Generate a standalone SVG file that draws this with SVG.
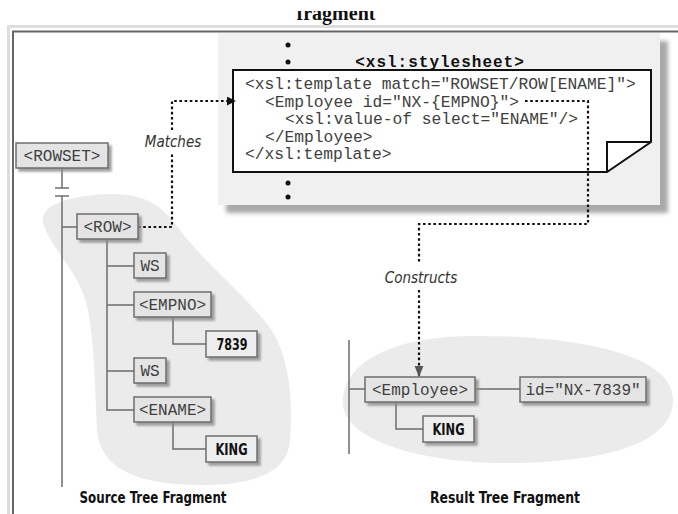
<svg xmlns="http://www.w3.org/2000/svg" width="678" height="514" viewBox="0 0 678 514">
<defs>
<style>
.box{fill:#e4e4e4;stroke:#6e6e6e;stroke-width:1.5}
.val{fill:#eeeeee;stroke:#6e6e6e;stroke-width:1.5}
.mono{font-family:"Liberation Mono","Courier New",monospace;font-size:16px;fill:#404040}
.bold{font-family:"Liberation Sans Narrow","DejaVu Sans Condensed","Liberation Sans",sans-serif;font-weight:bold;font-size:16px;fill:#111}
.lab{font-family:"Liberation Sans Narrow","DejaVu Sans Condensed","Liberation Sans",sans-serif;font-style:italic;font-size:15px;fill:#333}
.cap{font-family:"Liberation Sans Narrow","DejaVu Sans Condensed","Liberation Sans",sans-serif;font-weight:bold;font-size:16px;fill:#111}
.tree{fill:none;stroke:#6e6e6e;stroke-width:1.5}
.dot{fill:none;stroke:#111;stroke-width:2.2;stroke-dasharray:2.6 2.6}
.code{font-family:"Liberation Mono","Courier New",monospace;font-size:16.3px;fill:#404040}
</style>
<filter id="sh" x="-20%" y="-20%" width="150%" height="160%">
<feDropShadow dx="3" dy="3" stdDeviation="1.3" flood-color="#8a8a8a" flood-opacity="0.8"/>
</filter>
<filter id="blur" x="-10%" y="-10%" width="120%" height="120%">
<feGaussianBlur stdDeviation="2"/>
</filter>
<marker id="ah" viewBox="0 0 10 10" refX="9" refY="5" markerWidth="9" markerHeight="9" markerUnits="userSpaceOnUse" orient="auto">
<path d="M0,0 L10,5 L0,10 Z" fill="#111"/>
</marker>
<marker id="ah2" viewBox="0 0 10 10" refX="9" refY="5" markerWidth="11" markerHeight="11" markerUnits="userSpaceOnUse" orient="auto">
<path d="M0,1 L10,5 L0,9 Z" fill="#555"/>
</marker>
<clipPath id="titleclip"><rect x="0" y="11" width="678" height="20"/></clipPath>
</defs>
<rect width="678" height="514" fill="#ffffff"/>

<text x="336" y="20" text-anchor="middle" clip-path="url(#titleclip)" font-family="Liberation Serif,serif" font-weight="bold" font-size="20" fill="#111">fragment</text>

<!-- frames -->
<path d="M8.5,514 V26.5 H678" fill="none" stroke="#dddddd" stroke-width="3"/>
<path d="M13,514 V31.5 H678" fill="none" stroke="#666666" stroke-width="2"/>

<!-- background shapes -->
<path id="source-blob" d="M43,222 C40,205 70,195 110,194 C150,193 165,210 180,230 C200,258 240,290 268,325 C290,355 293,400 290,440 C288,470 260,485 200,485 C140,485 100,470 97,430 C95,390 95,350 88,310 C80,270 50,250 43,222 Z" fill="#ebebeb"/>
<path id="result-blob" d="M343,405 C340,370 380,337 470,336 C560,335 673,350 673,400 C673,445 600,463 505,463 C420,463 346,440 343,405 Z" fill="#ebebeb"/>

<!-- stylesheet page -->
<g id="stylesheet">
<rect x="226" y="41" width="442" height="172" fill="#a8a8a8" filter="url(#blur)"/>
<rect x="218" y="33" width="442" height="172" fill="#f0f0f0"/>
<circle cx="288" cy="45" r="2.5" fill="#111"/>
<circle cx="288" cy="62" r="2.5" fill="#111"/>
<circle cx="288" cy="183" r="2.5" fill="#111"/>
<circle cx="288" cy="197" r="2.5" fill="#111"/>
<text x="440" y="67" text-anchor="middle" font-family="Liberation Mono,'Courier New',monospace" font-weight="bold" font-size="16" letter-spacing="1" fill="#111">&lt;xsl:stylesheet&gt;</text>
<path d="M233,70 H651 V142 L607,172 H233 Z" fill="#ffffff" stroke="#111" stroke-width="2"/>
<path d="M651,142 H607 V172" fill="none" stroke="#111" stroke-width="2"/>
<text class="code" x="245" y="89">&lt;xsl:template match="ROWSET/ROW[ENAME]"&gt;</text>
<text class="code" x="265" y="106.5">&lt;Employee id="NX-{EMPNO}"&gt;</text>
<text class="code" x="285" y="124">&lt;xsl:value-of select="ENAME"/&gt;</text>
<text class="code" x="265" y="141.5">&lt;/Employee&gt;</text>
<text class="code" x="245" y="159">&lt;/xsl:template&gt;</text>
</g>

<!-- connectors -->
<g id="connectors">
<path class="tree" d="M62,168 V188 M55,188 H69 M55,196 H69 M62,196 V487 M62,227 H77"/>
<path class="tree" d="M107,239 V410 H134 M107,266 H134 M107,305 H134 M107,371 H134"/>
<path class="tree" d="M173,317 V344 H206 M173,422 V449 H206"/>
<path class="tree" d="M349,340 V454 M349,389 H365 M475,389 H520 M396,402 V429 H423"/>
<path class="dot" d="M138,227 H172 V152 M172,130 V101 H235" marker-end="url(#ah)"/>
<path class="dot" d="M525,101 H588 V224 H419 V264 M419,290 V376" marker-end="url(#ah2)"/>
<text class="lab" x="173" y="147" text-anchor="middle">Matches</text>
<text class="lab" x="421" y="283" text-anchor="middle">Constructs</text>
</g>

<!-- source tree -->
<g id="rowset"><rect class="box" x="16" y="143" width="92" height="25" filter="url(#sh)"/><text class="mono" x="62" y="160.5" text-anchor="middle">&lt;ROWSET&gt;</text></g>
<g id="row"><rect class="box" x="77" y="214" width="61" height="25" filter="url(#sh)"/><text class="mono" x="107.5" y="231.5" text-anchor="middle">&lt;ROW&gt;</text></g>
<g id="ws1"><rect class="box" x="134" y="253" width="32" height="25" filter="url(#sh)"/><text class="mono" x="150" y="270.5" text-anchor="middle">WS</text></g>
<g id="empno"><rect class="box" x="134" y="292" width="77" height="25" filter="url(#sh)"/><text class="mono" x="172.5" y="309.5" text-anchor="middle">&lt;EMPNO&gt;</text></g>
<g id="v7839"><rect class="val" x="206" y="331" width="51" height="26" filter="url(#sh)"/><text class="bold" x="232" y="350" text-anchor="middle" textLength="31" lengthAdjust="spacingAndGlyphs">7839</text></g>
<g id="ws2"><rect class="box" x="134" y="358" width="32" height="25" filter="url(#sh)"/><text class="mono" x="150" y="375.5" text-anchor="middle">WS</text></g>
<g id="ename"><rect class="box" x="134" y="397" width="77" height="25" filter="url(#sh)"/><text class="mono" x="172.5" y="414.5" text-anchor="middle">&lt;ENAME&gt;</text></g>
<g id="king1"><rect class="val" x="206" y="436" width="51" height="26" filter="url(#sh)"/><text class="bold" x="231.5" y="455" text-anchor="middle" textLength="32" lengthAdjust="spacingAndGlyphs">KING</text></g>

<!-- result tree -->
<g id="employee"><rect class="box" x="365" y="377" width="110" height="25" filter="url(#sh)"/><text class="mono" x="420" y="394.5" text-anchor="middle">&lt;Employee&gt;</text></g>
<g id="idattr"><rect class="box" x="520" y="377" width="126" height="25" filter="url(#sh)"/><text class="mono" x="583" y="394.5" text-anchor="middle">id="NX-7839"</text></g>
<g id="king2"><rect class="val" x="423" y="416" width="51" height="26" filter="url(#sh)"/><text class="bold" x="448.5" y="435" text-anchor="middle" textLength="32" lengthAdjust="spacingAndGlyphs">KING</text></g>

<text class="cap" x="153" y="503" text-anchor="middle" textLength="147" lengthAdjust="spacingAndGlyphs">Source Tree Fragment</text>
<text class="cap" x="505" y="503" text-anchor="middle" textLength="150" lengthAdjust="spacingAndGlyphs">Result Tree Fragment</text>
</svg>
